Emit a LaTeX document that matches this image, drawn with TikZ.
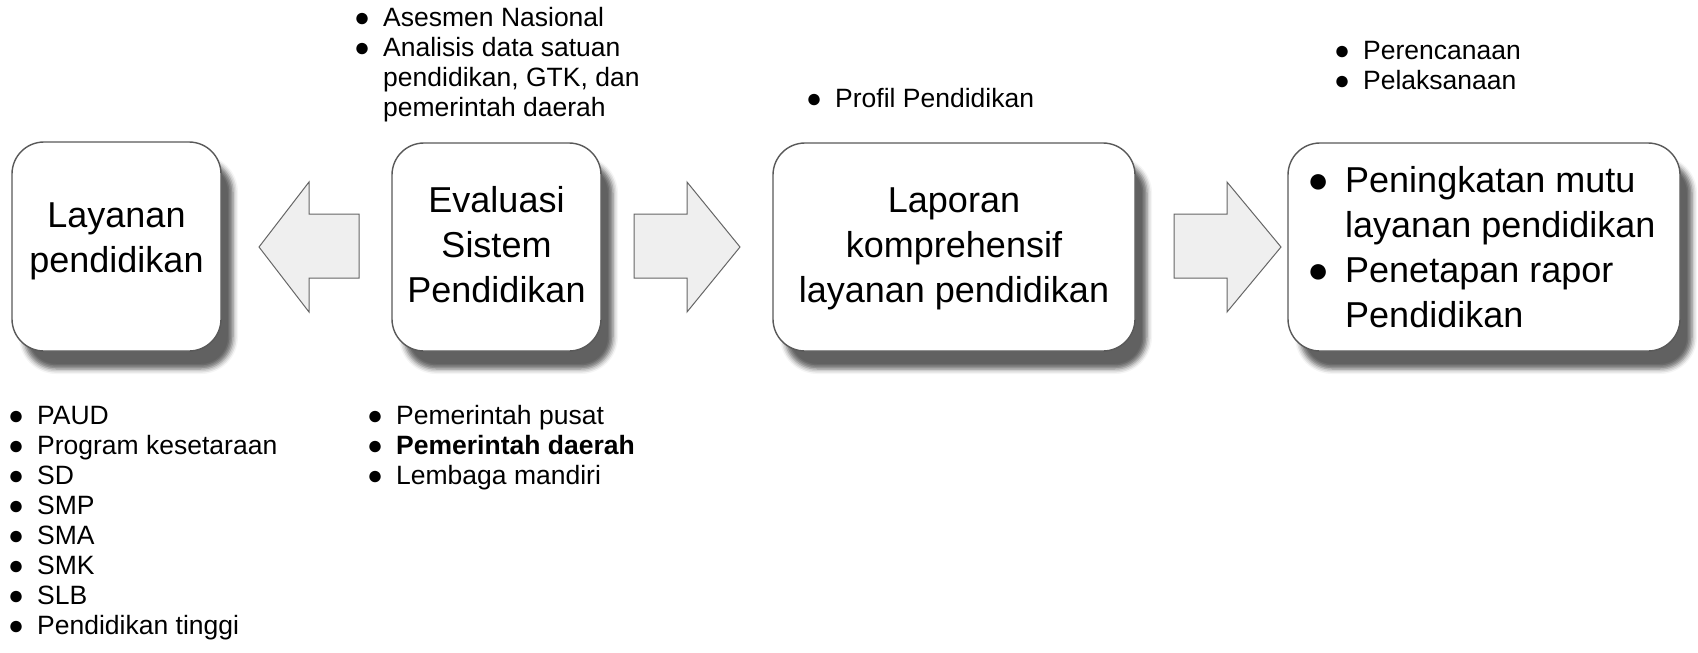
\documentclass[tikz,border=0pt]{standalone}
\usepackage{fontspec}
\setmainfont{Liberation Sans}
\usetikzlibrary{shadows.blur}

\definecolor{boxline}{RGB}{89,89,89}
\definecolor{arrowfill}{RGB}{239,239,239}
\definecolor{arrowline}{RGB}{102,102,102}

\newcommand\bigfont{\fontsize{36}{45}\selectfont}
\newcommand\smallfont{\fontsize{26.5}{30}\selectfont}
\newcommand\sbul{\llap{●\hspace{13pt}}}
\newcommand\bbul{\llap{●\hspace{16pt}}}

\begin{document}
\begin{tikzpicture}[x=1pt,y=-1pt,
  card/.style={draw=boxline, line width=1.4pt, fill=white, rounded corners=32pt,
    inner sep=0pt,
    blur shadow={shadow xshift=12pt, shadow yshift=-18pt,
      shadow blur radius=5pt, shadow opacity=62}},
  cardtext/.style={anchor=base, inner sep=0pt, font=\bigfont},
  cardlist/.style={anchor=base west, inner sep=0pt, font=\bigfont},
  notes/.style={anchor=base west, inner sep=0pt, font=\smallfont},
  blockarrow/.style={draw=arrowline, line width=1pt, fill=arrowfill, line join=miter}]

\useasboundingbox (0,0) rectangle (1698,653);

% the four stages
\node[card, minimum width=209pt, minimum height=209pt] (layanan) at (116.5,246.5) {};
\node[card, minimum width=209pt, minimum height=208pt] (evaluasi) at (496.5,247) {};
\node[card, minimum width=362pt, minimum height=208pt] (laporan) at (954,247) {};
\node[card, minimum width=392pt, minimum height=208pt] (hasil) at (1484,247) {};

\node[cardtext] (layananText) at (116.5,227)
  {\begin{tabular}[t]{@{}c@{}}Layanan\\pendidikan\end{tabular}};
\node[cardtext] (evaluasiText) at (496.5,212)
  {\begin{tabular}[t]{@{}c@{}}Evaluasi\\Sistem\\Pendidikan\end{tabular}};
\node[cardtext] (laporanText) at (954,212)
  {\begin{tabular}[t]{@{}c@{}}Laporan\\komprehensif\\layanan pendidikan\end{tabular}};
\node[cardlist] (hasilText) at (1345,192)
  {\begin{tabular}[t]{@{}l@{}}\bbul Peningkatan mutu\\layanan pendidikan\\
   \bbul Penetapan rapor\\Pendidikan\end{tabular}};

% block arrows between the stages
\draw[blockarrow] (359,214) -- (309,214) -- (309,182) -- (259,247)
  -- (309,312) -- (309,278) -- (359,278) -- cycle;
\draw[blockarrow] (634,214) -- (687,214) -- (687,182) -- (740,247)
  -- (687,312) -- (687,278) -- (634,278) -- cycle;
\draw[blockarrow] (1174,214) -- (1227,214) -- (1227,182) -- (1281,247)
  -- (1227,312) -- (1227,278) -- (1174,278) -- cycle;

% side notes
\node[notes] (sumber) at (383,26)
  {\begin{tabular}[t]{@{}l@{}}\sbul Asesmen Nasional\\\sbul Analisis data satuan\\
   pendidikan, GTK, dan\\pemerintah daerah\end{tabular}};
\node[notes] (profil) at (835,107) {\sbul Profil Pendidikan};
\node[notes] (tindak) at (1363,59)
  {\begin{tabular}[t]{@{}l@{}}\sbul Perencanaan\\\sbul Pelaksanaan\end{tabular}};
\node[notes] (jenjang) at (37,424)
  {\begin{tabular}[t]{@{}l@{}}\sbul PAUD\\\sbul Program kesetaraan\\\sbul SD\\
   \sbul SMP\\\sbul SMA\\\sbul SMK\\\sbul SLB\\\sbul Pendidikan tinggi\end{tabular}};
\node[notes] (pelaksana) at (396,424)
  {\begin{tabular}[t]{@{}l@{}}\sbul Pemerintah pusat\\\sbul \textbf{Pemerintah daerah}\\
   \sbul Lembaga mandiri\end{tabular}};

\end{tikzpicture}
\end{document}
